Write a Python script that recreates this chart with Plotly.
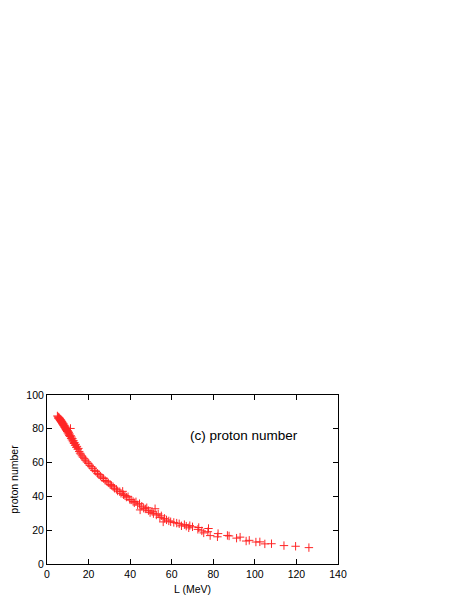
import plotly.graph_objects as go

L_mev = [5.0,5.3,5.4,5.6,5.8,5.9,6.1,6.2,6.4,6.5,6.7,6.8,7.0,7.1,7.3,7.4,7.6,7.7,7.9,8.0,
         8.2,8.3,8.5,8.6,8.8,8.9,9.1,9.2,9.4,9.5,9.7,9.9,10.0,10.2,10.4,10.5,10.7,10.9,11.1,11.3,
         11.4,11.6,11.8,12.0,12.2,12.5,12.7,13.0,13.2,13.5,13.8,14.1,14.4,14.8,15.1,15.5,15.9,16.3,16.8,17.3,
         17.9,18.5,19.2,19.9,
         20.6,21.3,22.0,22.8,23.5,24.3,25.0,25.7,26.5,27.2,28.0,28.8,29.5,30.4,31.0,31.8,32.5,33.4,34.0,35.0,
         35.6,36.4,36.8,37.5,38.2,39.0,39.8,40.5,41.4,42.0,42.8,43.6,44.5,44.8,45.6,46.5,47.3,48.0,48.8,49.6,
         50.5,51.2,52.0,52.6,53.5,54.3,55.0,55.9,56.5,57.5,58.6,59.5,61.0,62.4,63.6,64.7,66.1,67.0,68.2,68.7,
         70.0,72.6,73.0,74.5,75.4,77.4,77.7,78.5,82.0,82.3,86.8,87.6,91.2,92.9,95.8,97.3,100.5,102.4,104.8,108.0,
         114.0,119.6,126.0]
proton = [87.6,87.1,86.3,86.8,85.9,86.5,85.4,86.0,84.9,85.5,84.3,85.0,83.8,84.4,83.2,83.9,82.6,83.3,82.0,82.8,
          81.5,82.1,80.8,81.6,80.3,81.0,79.6,80.4,79.0,79.8,78.4,79.0,77.6,78.3,76.9,77.7,76.1,76.9,75.4,80.2,
          75.9,74.3,75.1,73.4,74.2,72.3,73.0,71.3,71.9,70.2,70.8,69.0,69.6,67.9,68.4,66.6,65.6,65.0,64.0,63.2,
          62.3,61.4,60.4,59.5,
          58.4,57.6,56.6,55.4,54.8,53.6,52.9,52.0,51.0,50.6,49.4,48.9,48.0,47.0,46.5,45.7,44.8,44.2,43.2,42.8,
          41.8,43.0,41.0,40.5,39.6,39.8,38.2,37.9,37.0,36.2,36.8,35.0,35.7,32.0,34.2,33.0,32.6,33.3,31.6,30.4,
          31.2,29.8,32.7,29.0,29.6,27.6,28.5,24.9,27.0,26.1,25.5,25.0,24.6,24.2,23.8,22.6,23.3,22.4,21.4,22.7,
          22.0,20.5,21.6,19.6,18.4,19.1,21.0,16.8,16.1,18.0,16.9,16.6,15.3,15.9,13.6,14.0,13.0,13.1,11.9,12.0,
          10.9,10.5,9.7]

x_ticks = [0, 20, 40, 60, 80, 100, 120, 140]
y_ticks = [0, 20, 40, 60, 80, 100]

FONT = "Liberation Sans, Arial, sans-serif"

fig = go.Figure()
fig.add_trace(go.Scatter(
    x=L_mev, y=proton, mode="markers",
    marker=dict(symbol="cross-thin", size=6, line=dict(color="#ff0000", width=1), color="#ff0000"),
    opacity=0.85,
    showlegend=False,
))

axis_common = dict(
    showline=True, linecolor="black", linewidth=1, mirror="ticks",
    ticks="inside", ticklen=5, tickcolor="black", showgrid=False, zeroline=False,
    automargin=False,
    tickfont=dict(family=FONT, size=10.5, color="black"),
)
fig.update_xaxes(range=[0, 140], tickvals=x_ticks,
                 title=dict(text="L (MeV)", font=dict(family=FONT, size=10.5, color="black"), standoff=7),
                 **axis_common)
fig.update_yaxes(range=[0, 100], tickvals=y_ticks,
                 title=dict(text="proton number", font=dict(family=FONT, size=10.5, color="black"), standoff=8),
                 **axis_common)

fig.add_annotation(x=95, y=76, xref="x", yref="y", text="(c) proton number", showarrow=False,
                   font=dict(family=FONT, size=13.5, color="black"))

fig.update_layout(
    width=463, height=599,
    margin=dict(l=39, r=133, t=387, b=43),
    plot_bgcolor="white", paper_bgcolor="white",
)
fig.write_html("out.html")
